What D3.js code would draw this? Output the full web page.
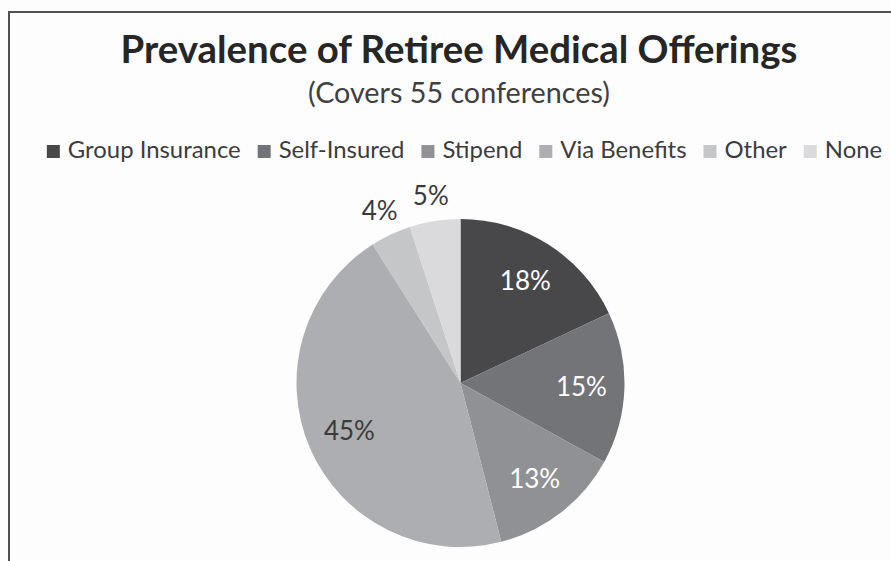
<!DOCTYPE html>
<html>
<head>
<meta charset="utf-8">
<script src="https://cdn.jsdelivr.net/npm/d3@7"></script>
<style>
  html, body { margin: 0; padding: 0; background: #fdfdfd; }
  svg { display: block; }
</style>
</head>
<body>
<svg id="chart" width="891" height="561"></svg>
<script>
// Retiree medical offerings across 55 conferences (share of conferences, %)
const categories = ["Group Insurance", "Self-Insured", "Stipend", "Via Benefits", "Other", "None"];
const shares = [18, 15, 13, 45, 4, 5];
const sliceColors = ["#48484b", "#737478", "#909195", "#adaeb1", "#c5c6c8", "#dadadc"];
const labelColors = ["#ffffff", "#ffffff", "#ffffff", "#3a3a3a", "#3a3a3a", "#3a3a3a"];
const titleText = "Prevalence of Retiree Medical Offerings";
const subtitleText = "(Covers 55 conferences)";

const W = 891, H = 561;
const FONT = "Lato, 'Open Sans', sans-serif";
const svg = d3.select("#chart");

// background and chart frame (top and left edges visible)
svg.append("rect").attr("width", W).attr("height", H).attr("fill", "#fdfdfd");
svg.append("path")
  .attr("d", `M9,${H} L9,12 L${W},12`)
  .attr("fill", "none").attr("stroke", "#505050").attr("stroke-width", 2);

// size a text element so that it spans a given width
function fitWidth(sel, target) {
  const s0 = 20;
  sel.attr("font-size", s0);
  const w = sel.node().getComputedTextLength();
  const s = s0 * target / w;
  sel.attr("font-size", s);
  return s;
}

// titles
const title = svg.append("text")
  .attr("x", 459).attr("y", 63)
  .attr("text-anchor", "middle")
  .attr("font-family", FONT).attr("font-weight", 700)
  .attr("fill", "#262626")
  .text(titleText);
fitWidth(title, 677);

const subtitle = svg.append("text")
  .attr("x", 459).attr("y", 103)
  .attr("text-anchor", "middle")
  .attr("font-family", FONT)
  .attr("fill", "#404040")
  .text(subtitleText);
fitWidth(subtitle, 302);

// legend
const legend = svg.append("g");
const items = legend.selectAll("g").data(categories).join("g");
const sq = 13, gapIn = 8, gapOut = 17;
items.append("rect")
  .attr("width", sq).attr("height", sq)
  .attr("y", 145)
  .attr("fill", (d, i) => sliceColors[i]);
const ltexts = items.append("text")
  .attr("x", sq + gapIn).attr("y", 158)
  .attr("font-family", FONT)
  .attr("fill", "#3c3c3c")
  .text(d => d);
// legend font size from the first entry's width
const probe = ltexts.filter((d, i) => i === 0);
const lsize = fitWidth(probe, 173);
ltexts.attr("font-size", lsize);
let xCursor = 0;
items.each(function () {
  const g = d3.select(this);
  g.attr("transform", `translate(${xCursor},0)`);
  const tw = g.select("text").node().getComputedTextLength();
  xCursor += sq + gapIn + tw + gapOut;
});
const legendWidth = xCursor - gapOut;
legend.attr("transform", `translate(${464.5 - legendWidth / 2},0)`);

// pie
const cx = 460.5, cy = 383, R = 164;
const pie = d3.pie().sort(null).value(d => d)(shares);
const arc = d3.arc().innerRadius(0).outerRadius(R);
const pg = svg.append("g").attr("transform", `translate(${cx},${cy})`);
pg.selectAll("path").data(pie).join("path")
  .attr("d", arc)
  .attr("fill", (d, i) => sliceColors[i]);

// data labels: large slices inside, small ones outside the rim
const inner = d3.arc().innerRadius(121).outerRadius(121);
const outer = d3.arc().innerRadius(190).outerRadius(190);
pg.selectAll("text.lbl").data(pie).join("text")
  .attr("class", "lbl")
  .attr("transform", d => `translate(${(d.data < 10 ? outer : inner).centroid(d)})`)
  .attr("text-anchor", "middle")
  .attr("dy", "0.36em")
  .attr("font-family", FONT)
  .attr("font-size", 26)
  .attr("fill", (d, i) => labelColors[i])
  .text(d => d.data + "%");
</script>
</body>
</html>
